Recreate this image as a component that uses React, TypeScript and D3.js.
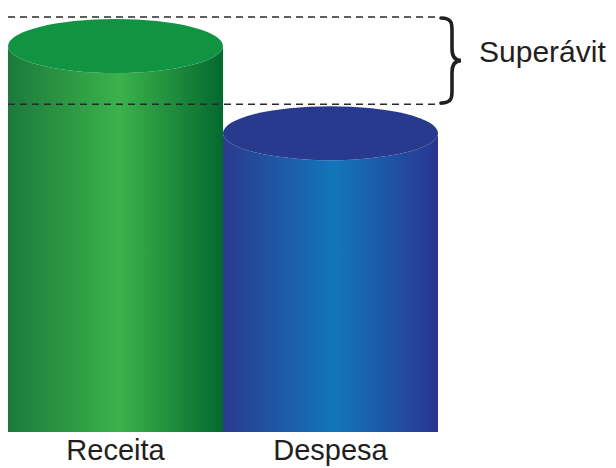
import React from "react";
import * as d3 from "d3";

// chart data
const categories = ["Receita", "Despesa"];
const values = [100, 79];
const annotation = "Superávit";

// palette for each cylinder: edges, centre highlight and the top cap
const palettes = [
  { left: "#1b7a3c", mid: "#3bb24b", right: "#04692f", top: "#109442" },
  { left: "#2b3a8e", mid: "#1276bb", right: "#2a3590", top: "#283a8e" },
];

const W = 616;
const H = 468;
const FONT = "'Liberation Sans', Arial, Helvetica, sans-serif";

const App = () => {
  const x = d3.scaleBand<string>().domain(categories).range([8, 438]).paddingInner(0).paddingOuter(0);
  const y = d3.scaleLinear().domain([0, 100]).range([432, 17]);
  const ry = 27;
  const bw = x.bandwidth();

  // curly brace between the two dashed lines
  const y1 = y(values[0]);
  const y2 = y(values[1]);
  const bx = 441;
  const ym = (y1 + y2) / 2;
  const brace = d3.path();
  brace.moveTo(bx, y1 + 1);
  brace.bezierCurveTo(bx + 12, y1 + 1, bx + 11, y1 + 8, bx + 11, y1 + 16);
  brace.lineTo(bx + 11, ym - 12);
  brace.bezierCurveTo(bx + 11, ym - 4, bx + 14, ym, bx + 20, ym);
  brace.bezierCurveTo(bx + 14, ym, bx + 11, ym + 4, bx + 11, ym + 12);
  brace.lineTo(bx + 11, y2 - 16);
  brace.bezierCurveTo(bx + 11, y2 - 8, bx + 12, y2 - 1, bx, y2 - 1);

  return (
    <svg width={W} height={H} style={{ position: "absolute", left: 0, top: 0 }}>
      <defs>
        {palettes.map((p, i) => (
          <linearGradient key={i} id={`cyl${i}`} x1="0" x2="1" y1="0" y2="0">
            <stop offset="0%" stopColor={p.left} />
            <stop offset="52%" stopColor={p.mid} />
            <stop offset="100%" stopColor={p.right} />
          </linearGradient>
        ))}
      </defs>
      <rect width={W} height={H} fill="#ffffff" />
      {categories.map((c, i) => {
        const x0 = x(c) as number;
        const cy = y(values[i]) + ry + 2;
        return (
          <g key={c}>
            <path
              d={`M${x0},${cy} L${x0},${y(0)} L${x0 + bw},${y(0)} L${x0 + bw},${cy} A${bw / 2},${ry} 0 0 1 ${x0},${cy} Z`}
              fill={`url(#cyl${i})`}
            />
            <ellipse cx={x0 + bw / 2} cy={cy} rx={bw / 2} ry={ry} fill={palettes[i].top} />
            <text x={x0 + bw / 2} y={460} textAnchor="middle" fontFamily={FONT} fontSize={29} fill="#231f20">
              {c}
            </text>
          </g>
        );
      })}
      {values.map((v, i) => (
        <line
          key={i}
          x1={8}
          x2={440}
          y1={y(v)}
          y2={y(v)}
          stroke="#2a2a2a"
          strokeWidth={1.5}
          strokeDasharray="7 5"
        />
      ))}
      <path d={brace.toString()} fill="none" stroke="#231f20" strokeWidth={3.6} strokeLinecap="round" />
      <text x={479} y={62} fontFamily={FONT} fontSize={30} fill="#231f20">
        {annotation}
      </text>
    </svg>
  );
};

export default App;
